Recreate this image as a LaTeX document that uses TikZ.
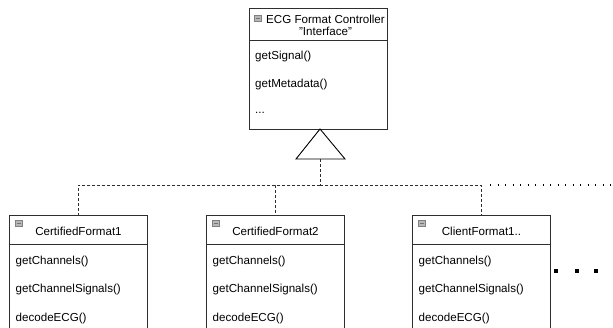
\documentclass[tikz,border=0pt]{standalone}
\usepackage{fontspec}
\setmainfont{Liberation Sans}
\definecolor{boxc}{HTML}{2E2E2E}
\definecolor{iconfill}{HTML}{B8B8B8}
\definecolor{iconline}{HTML}{808080}
\newcommand\dfont{\fontsize{11.6}{13}\selectfont}
\tikzset{
  umlbox/.style={draw=boxc, line width=0.9pt, fill=white, minimum width=138pt,
    anchor=north west, inner sep=0pt, outer sep=0pt},
  sepline/.style={draw=boxc, line width=0.9pt},
  meth/.style={anchor=west, inner sep=0pt, font=\dfont, text=black},
  ttl/.style={anchor=center, inner sep=0pt, font=\dfont, text=black, align=center},
  dsh/.style={draw=boxc, line width=0.9pt, dash pattern=on 3pt off 2pt},
  dotline/.style={draw=black, line width=1.4pt, dash pattern=on 1.4pt off 6.1pt},
  inherit/.style={draw=black, line width=0.9pt, fill=white},
  minusicon/.pic={
    \draw[draw=iconline, fill=iconfill, line width=0.5pt] (0,0) rectangle (7,6);
    \draw[draw=black!55, line width=0.7pt] (1.5,3) -- (5.5,3);
  }
}
\begin{document}
\begin{tikzpicture}[x=1pt, y=-1pt]
\useasboundingbox (0,0) rectangle (613,328);
\clip (0,0) rectangle (613,328);

% ---------------- top interface box ----------------
\node[umlbox, minimum height=121pt] (top) at (249,8) {};
\draw[sepline] ([yshift=-32pt]top.north west) -- ([yshift=-32pt]top.north east);
\pic at (254,15) {minusicon};
\node[ttl] (toptitle) at (325.5,25.5) {ECG Format Controller\\[-0.5pt]\symbol{34}Interface\symbol{34}};
\node[meth] (tm1) at (255,57) {getSignal()};
\node[meth] (tm2) at (255,85) {getMetadata()};
\node[meth] (tm3) at (255,113) {...};

% ---------------- inheritance triangle ----------------
\coordinate (apex) at (320,129);
\coordinate (tl) at (296,159);
\coordinate (tr) at (345,159);
\coordinate (tb) at (320,159);
\draw[inherit] (apex) -- (tl) -- (tr) -- cycle;
\coordinate (hub) at (320,185);

% ---------------- bottom boxes ----------------
\foreach \n/\x/\t in {b1/9/CertifiedFormat1, b2/206/CertifiedFormat2, b3/412/ClientFormat1..}{
  \node[umlbox, minimum height=140pt] (\n) at (\x,215) {};
  \draw[sepline] ([yshift=-29pt]\n.north west) -- ([yshift=-29pt]\n.north east);
  \pic at ([xshift=6pt,yshift=-5pt]\n.north west) {minusicon};
  \node[ttl] (\n title) at ([xshift=0.5pt,yshift=-16pt]\n.north) {\t};
  \node[meth] (\n m1) at ([xshift=6.5pt,yshift=-47pt]\n.north west) {getChannels()};
  \node[meth] (\n m2) at ([xshift=6.5pt,yshift=-75pt]\n.north west) {getChannelSignals()};
  \node[meth] (\n m3) at ([xshift=6.5pt,yshift=-103pt]\n.north west) {decodeECG()};
}

% ---------------- connectors ----------------
\draw[dsh] (tb) -- (hub);
\draw[dsh] (hub) -| (b1.north);
\draw[dsh] (hub) -| (b2.north);
\draw[dsh] (hub) -| (b3.north);

\coordinate (dotstart) at (490,185);
\coordinate (dotend) at (614,185);
\draw[dotline] (dotstart) -- (dotend);

% ---------------- ellipsis dots ----------------
\foreach \dx in {556,577,596}{
  \fill[black] (\dx-1.7,269.3) rectangle (\dx+1.7,272.7);
}
\end{tikzpicture}
\end{document}
